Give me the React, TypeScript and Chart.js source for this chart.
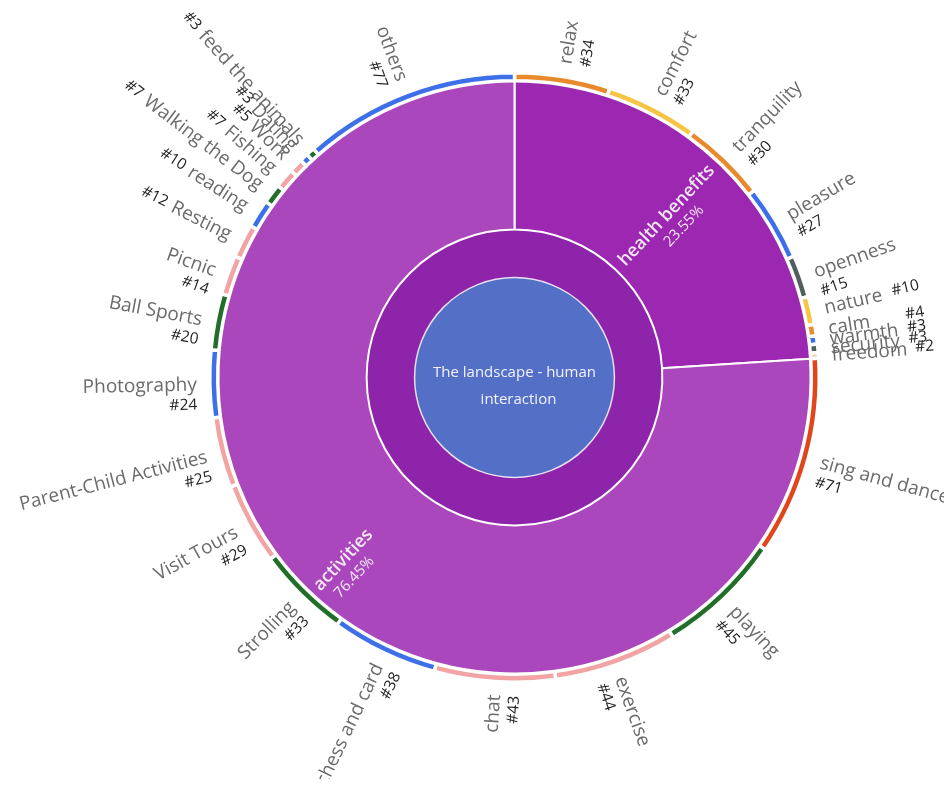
import React, { useEffect, useRef } from "react";
import { Chart, registerables } from "chart.js";

Chart.register(...registerables);

const centerTitle = ["The landscape - human", "interaction"];
const categories = ["health benefits", "activities"];
const categoryPercents = ["23.55%", "76.45%"];

const healthNames = ["relax", "comfort", "tranquility", "pleasure", "openness", "nature", "calm", "warmth", "security", "freedom"];
const healthValues = [34, 33, 30, 27, 15, 10, 4, 3, 3, 2];

const activityNames = [
  "sing and dance", "playing", "exercise", "chat", "chess and card", "Strolling", "Visit Tours",
  "Parent-Child Activities", "Photography", "Ball Sports", "Picnic", "Resting", "reading",
  "Walking the Dog", "Fishing", "Work", "Dating", "feed the animals", "others",
];
const activityValues = [71, 45, 44, 43, 38, 33, 29, 25, 24, 20, 14, 12, 10, 7, 7, 5, 3, 3, 77];

const ORANGE = "#E8892B";
const YELLOW = "#F5C543";
const BLUE = "#3D6FE8";
const GRAY = "#4E5F5C";
const PEACH = "#F5CBA3";
const RED = "#E0461C";
const GREEN = "#216E29";
const PINK = "#F2A3A3";

const healthColors = [ORANGE, YELLOW, ORANGE, BLUE, GRAY, YELLOW, ORANGE, BLUE, GRAY, PEACH];
const activityColors = [
  RED, GREEN, PINK, PINK, BLUE, GREEN, PINK, PINK, BLUE, GREEN, PINK, PINK, BLUE, GREEN, PINK, PINK, BLUE, GREEN, BLUE,
];
const categoryColors = ["#9C27B0", "#AB47BC"];
const ringColor = "#8E24AA";
const centerColor = "#5470C6";

const FONT = "'Open Sans', 'Noto Sans', sans-serif";

const sum = (a: number[]) => a.reduce((s, v) => s + v, 0);

const leafNames = [...healthNames, ...activityNames];
const leafValues = [...healthValues, ...activityValues];
const leafColors = [...healthColors, ...activityColors];
const categoryTotals = [sum(healthValues), sum(activityValues)];

const labelPlugin = {
  id: "sunburstLabels",
  afterDatasetsDraw(chart: any) {
    const ctx = chart.ctx as CanvasRenderingContext2D;
    const leafMeta = chart.getDatasetMeta(0);
    const midMeta = chart.getDatasetMeta(1);
    const centerMeta = chart.getDatasetMeta(3);
    const first = leafMeta.data[0];
    const cx = first.x;
    const cy = first.y;

    // circle outline around the centre
    const cArc = centerMeta.data[0];
    ctx.save();
    ctx.beginPath();
    ctx.arc(cx, cy, cArc.outerRadius, 0, Math.PI * 2);
    ctx.strokeStyle = "rgba(255,255,255,0.8)";
    ctx.lineWidth = 1.5;
    ctx.stroke();

    // centre text
    ctx.fillStyle = "#F2F2FF";
    ctx.font = `15px ${FONT}`;
    ctx.textAlign = "center";
    ctx.textBaseline = "middle";
    ctx.fillText(centerTitle[0], cx, cy - 5);
    ctx.fillText(centerTitle[1], cx + 4, cy + 22);
    ctx.restore();

    // category labels (middle ring)
    midMeta.data.forEach((arc: any, i: number) => {
      const a = (arc.startAngle + arc.endAngle) / 2;
      const right = Math.cos(a) >= 0;
      const rr = (arc.innerRadius + arc.outerRadius) / 2 + (right ? 0 : 28);
      ctx.save();
      ctx.translate(cx, cy);
      ctx.rotate(right ? a : a + Math.PI);
      const x = right ? rr : -rr;
      ctx.textAlign = "center";
      ctx.textBaseline = "middle";
      ctx.fillStyle = "rgba(255,255,255,0.88)";
      ctx.font = `600 18px ${FONT}`;
      ctx.fillText(categories[i], x, 0);
      ctx.font = `15px ${FONT}`;
      ctx.fillText(categoryPercents[i], x + (right ? 4 : -5), 20);
      ctx.restore();
    });

    // leaf labels (outside)
    const nameFont = `19px ${FONT}`;
    const numFont = `15.5px ${FONT}`;
    const nameColor = "#6B6B6B";
    const numColor = "#222222";
    leafMeta.data.forEach((arc: any, i: number) => {
      const a = (arc.startAngle + arc.endAngle) / 2;
      const right = Math.cos(a) >= 0;
      const r0 = arc.outerRadius + 13;
      const name = leafNames[i];
      const num = "#" + leafValues[i];
      ctx.save();
      ctx.translate(cx, cy);
      ctx.rotate(right ? a : a + Math.PI);
      ctx.textBaseline = "middle";
      if (leafValues[i] >= 13) {
        const x = right ? r0 : -r0;
        ctx.textAlign = right ? "left" : "right";
        ctx.font = nameFont;
        ctx.fillStyle = nameColor;
        ctx.fillText(name, x, 1);
        ctx.font = numFont;
        ctx.fillStyle = numColor;
        ctx.fillText(num, x, 21);
      } else {
        ctx.font = nameFont;
        const nw = ctx.measureText(name).width;
        ctx.font = numFont;
        const mw = ctx.measureText(num).width;
        if (right) {
          ctx.textAlign = "left";
          ctx.font = nameFont;
          ctx.fillStyle = nameColor;
          ctx.fillText(name, r0, 1);
          ctx.font = numFont;
          ctx.fillStyle = numColor;
          const nx = Math.max(r0 + nw + 8, arc.outerRadius + 110 - mw);
          ctx.fillText(num, nx, -1);
        } else {
          ctx.textAlign = "right";
          ctx.font = nameFont;
          ctx.fillStyle = nameColor;
          ctx.fillText(name, -r0, 1);
          ctx.font = numFont;
          ctx.fillStyle = numColor;
          ctx.fillText(num, -r0 - nw - 6, 0);
        }
      }
      ctx.restore();
    });
  },
};

export default function App() {
  const ref = useRef<HTMLCanvasElement | null>(null);
  useEffect(() => {
    if (!ref.current) return;
    const chart = new Chart(ref.current, {
      type: "doughnut",
      data: {
        labels: leafNames,
        datasets: [
          {
            data: leafValues,
            backgroundColor: leafColors,
            borderColor: "#ffffff",
            borderWidth: 3.5,
            hoverBorderWidth: 3.5,
            weight: 8,
          } as any,
          {
            data: categoryTotals,
            backgroundColor: categoryColors,
            borderColor: "#ffffff",
            borderWidth: 2,
            hoverBorderWidth: 2,
            weight: 149,
          } as any,
          {
            data: [1],
            backgroundColor: [ringColor],
            borderWidth: 0,
            hoverBorderWidth: 0,
            weight: 48,
          } as any,
          {
            data: [1],
            backgroundColor: [centerColor],
            borderWidth: 0,
            hoverBorderWidth: 0,
            weight: 100,
          } as any,
        ],
      },
      options: {
        responsive: false,
        animation: false,
        devicePixelRatio: 1,
        cutout: 0,
        events: [],
        layout: { padding: { left: 200, top: 63, right: 131, bottom: 95 } },
        plugins: {
          legend: { display: false },
          tooltip: { enabled: false },
        },
      } as any,
      plugins: [labelPlugin],
    });
    return () => chart.destroy();
  }, []);
  return (
    <div style={{ width: 944, height: 771, background: "#ffffff" }}>
      <canvas ref={ref} width={944} height={771} style={{ display: "block" }} />
    </div>
  );
}
